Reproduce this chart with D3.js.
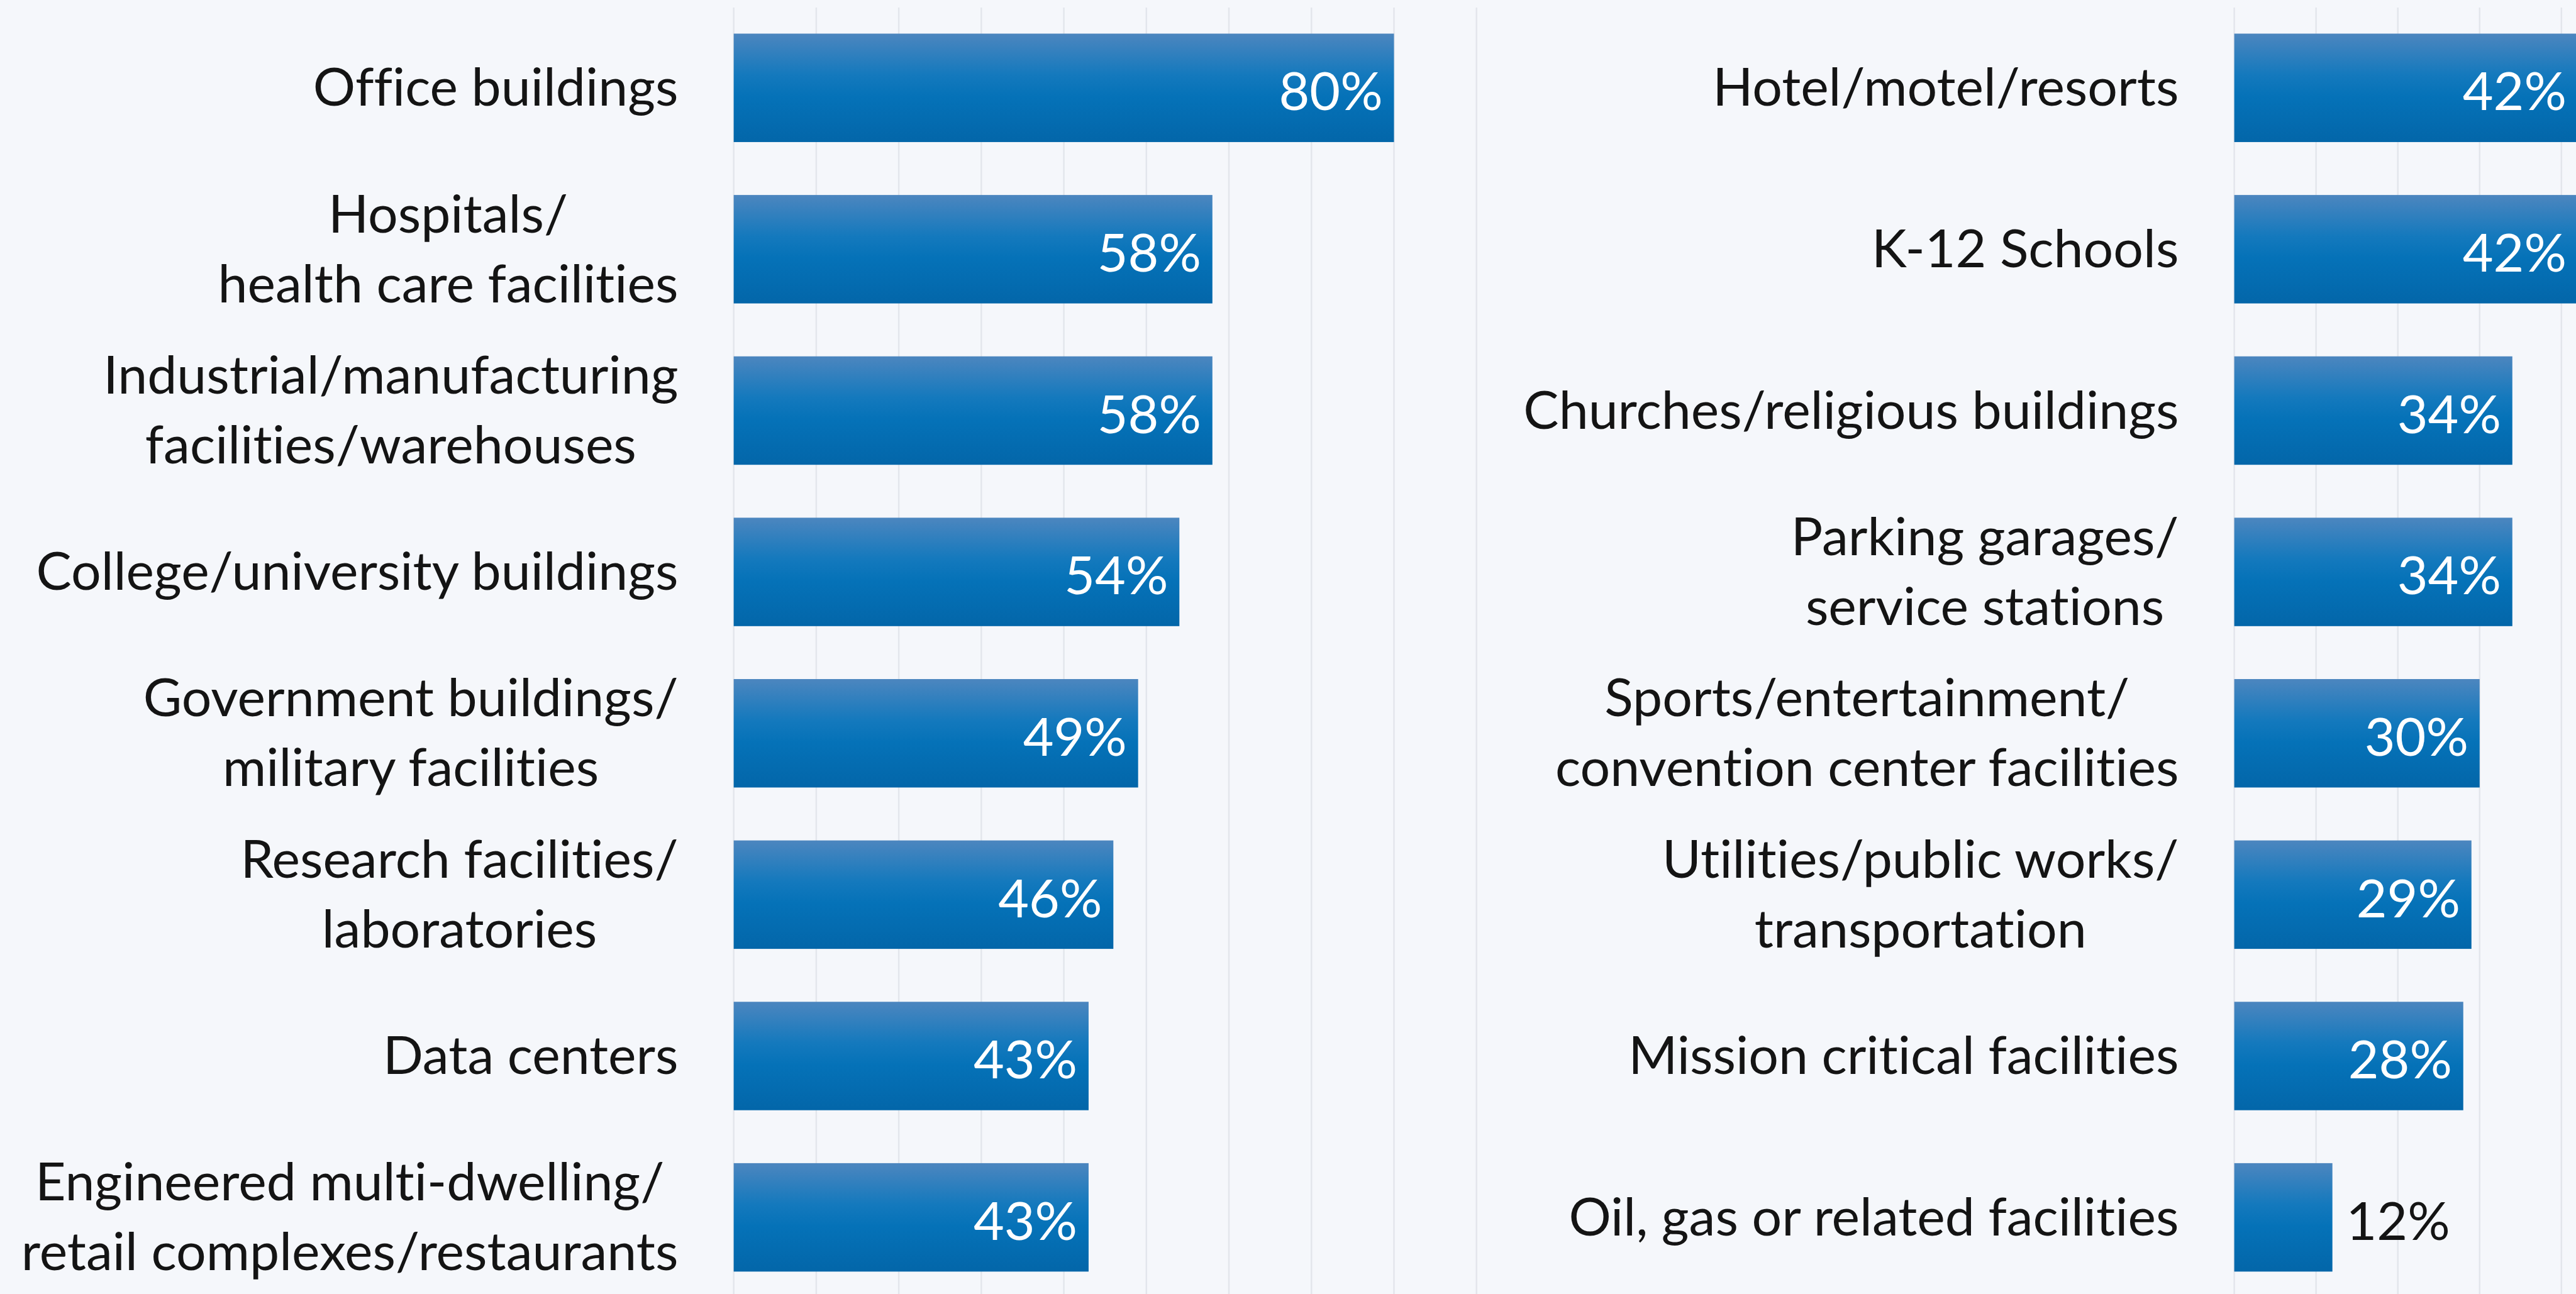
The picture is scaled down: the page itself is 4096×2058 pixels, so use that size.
<!DOCTYPE html>
<html>
    <head>
        <title>Facility types</title>
    </head>
    <style>
        html,body{
            margin: 0;
            padding: 0;
            background: #f5f7fb;
            overflow: hidden;
        }
        .grid line { stroke: #e3e6ec; stroke-width: 2.5; }
        text {
            font-family: Lato, "Open Sans", sans-serif;
            font-size: 85px;
            font-variant-ligatures: none;
            font-feature-settings: "liga" 0, "clig" 0;
        }
        .cat { fill: #141414; }
        .val-in { fill: #ffffff; }
        .val-out { fill: #141414; }
    </style>
    <body>
        <svg id="chart"></svg>
        <script src="https://cdnjs.cloudflare.com/ajax/libs/d3/7.8.5/d3.min.js"></script>
        <script>
            // left column
            var leftLabels = [
                ["Office buildings"],
                ["Hospitals/", "health care facilities"],
                ["Industrial/manufacturing", "facilities/warehouses"],
                ["College/university buildings"],
                ["Government buildings/", "military facilities"],
                ["Research facilities/", "laboratories"],
                ["Data centers"],
                ["Engineered multi-dwelling/", "retail complexes/restaurants"]
            ];
            var leftValues = [80, 58, 58, 54, 49, 46, 43, 43];

            // right column
            var rightLabels = [
                ["Hotel/motel/resorts"],
                ["K-12 Schools"],
                ["Churches/religious buildings"],
                ["Parking garages/", "service stations"],
                ["Sports/entertainment/", "convention center facilities"],
                ["Utilities/public works/", "transportation"],
                ["Mission critical facilities"],
                ["Oil, gas or related facilities"]
            ];
            var rightValues = [42, 42, 34, 34, 30, 29, 28, 12];

            var leftTicks = [0, 10, 20, 30, 40, 50, 60, 70, 80, 90];
            var rightTicks = [0, 10, 20, 30, 40, 50];

            // reference frame is 4133 x 2077, drawn into 4096 x 2058
            var width = 4133, height = 2077;
            var svg = d3.select("#chart")
                .attr("width", 4096)
                .attr("height", 2058)
                .attr("viewBox", [0, 0, width, height]);

            var defs = svg.append("defs");
            var grad = defs.append("linearGradient")
                .attr("id", "barGrad")
                .attr("x1", 0).attr("y1", 0).attr("x2", 0).attr("y2", 1);
            grad.append("stop").attr("offset", "0%").attr("stop-color", "#4c86bf");
            grad.append("stop").attr("offset", "38%").attr("stop-color", "#1479bd");
            grad.append("stop").attr("offset", "58%").attr("stop-color", "#0572b8");
            grad.append("stop").attr("offset", "100%").attr("stop-color", "#0366a9");

            var y = d3.scaleBand()
                .domain(d3.range(8))
                .range([11.5, 11.5 + 8 * 259])
                .paddingInner(0.328)
                .paddingOuter(0.164);

            var panels = [
                {labels: leftLabels, values: leftValues, ticks: leftTicks,
                 x: d3.scaleLinear().domain([0, 90]).range([1177, 2369]), labelRight: 1088},
                {labels: rightLabels, values: rightValues, ticks: rightTicks,
                 x: d3.scaleLinear().domain([0, 40]).range([3585, 4110]), labelRight: 3496}
            ];

            panels.forEach(function(p) {
                var g = svg.append("g");

                // vertical grid
                g.append("g").attr("class", "grid")
                    .selectAll("line")
                    .data(p.ticks)
                    .enter().append("line")
                    .attr("x1", function(d) { return p.x(d) })
                    .attr("x2", function(d) { return p.x(d) })
                    .attr("y1", 12)
                    .attr("y2", height);

                var rows = p.values.map(function(v, i) { return {v: v, lines: p.labels[i], i: i} });

                g.selectAll("rect")
                    .data(rows)
                    .enter().append("rect")
                    .attr("x", p.x(0))
                    .attr("y", function(d) { return y(d.i) })
                    .attr("width", function(d) { return p.x(d.v) - p.x(0) })
                    .attr("height", y.bandwidth())
                    .attr("fill", "url(#barGrad)");

                // value labels
                g.selectAll(".val")
                    .data(rows)
                    .enter().append("text")
                    .attr("y", function(d) { return y(d.i) + y.bandwidth() / 2 + 36 })
                    .text(function(d) { return d.v + "%" })
                    .each(function(d) {
                        var t = d3.select(this);
                        var w = this.getComputedTextLength();
                        var barW = p.x(d.v) - p.x(0);
                        if (barW > w + 40) {
                            t.attr("class", "val-in").attr("text-anchor", "end").attr("x", p.x(d.v) - 18);
                        } else {
                            t.attr("class", "val-out").attr("text-anchor", "start").attr("x", p.x(d.v) + 22);
                        }
                    });

                // category labels: lines centred on each other, block right aligned
                rows.forEach(function(d) {
                    var cy = y(d.i) + y.bandwidth() / 2;
                    var n = d.lines.length;
                    var texts = g.selectAll(null)
                        .data(d.lines)
                        .enter().append("text")
                        .attr("class", "cat")
                        .attr("text-anchor", "middle")
                        .attr("y", function(l, k) { return cy + 29 + (k - (n - 1) / 2) * 112 })
                        .text(function(l) { return l });
                    var maxW = 0;
                    texts.each(function() { maxW = Math.max(maxW, this.getComputedTextLength()) });
                    texts.attr("x", p.labelRight - maxW / 2);
                });
            });
        </script>
    </body>
</html>
